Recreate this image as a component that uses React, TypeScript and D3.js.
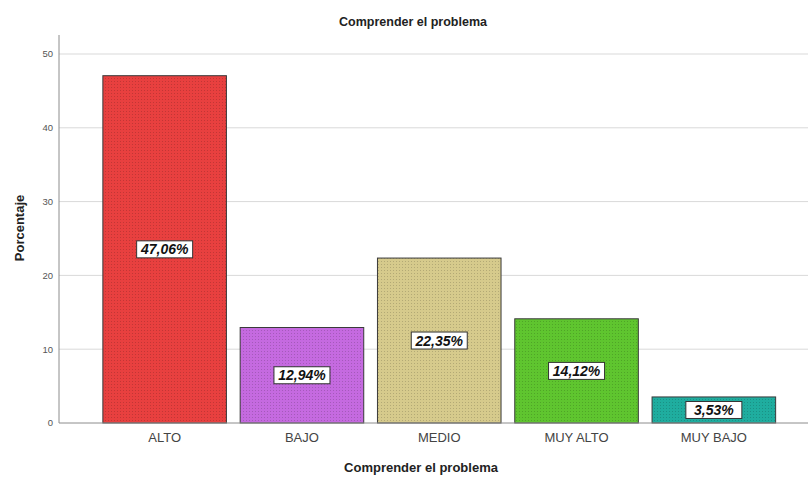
import React, { useEffect, useRef } from 'react';
import * as d3 from 'd3';

const categories = ['ALTO', 'BAJO', 'MEDIO', 'MUY ALTO', 'MUY BAJO'];
const percentages = [47.06, 12.94, 22.35, 14.12, 3.53];
const barColors = ['#e8403f', '#c56ae0', '#d6ca8c', '#5fc52f', '#1fad9f'];
const yTicks = [0, 10, 20, 30, 40, 50];

const W = 808;
const H = 477;

const App: React.FC = () => {
  const svgRef = useRef<SVGSVGElement>(null);

  useEffect(() => {
    if (!svgRef.current) return;
    const svg = d3.select(svgRef.current);
    svg.selectAll('*').remove();

    const font = '"Liberation Sans", Arial, sans-serif';
    const axisX = 59;
    const top = 35;
    const bottom = 423;

    const y = d3.scaleLinear().domain([0, 50]).range([bottom, 54]);
    const x = d3.scaleBand<string>()
      .domain(categories)
      .range([96, 782.5])
      .paddingInner(0.1)
      .paddingOuter(0.05);

    // dotted texture patterns
    const defs = svg.append('defs');
    barColors.forEach((c, i) => {
      const p = defs.append('pattern')
        .attr('id', `dots${i}`)
        .attr('width', 3)
        .attr('height', 3)
        .attr('patternUnits', 'userSpaceOnUse');
      p.append('rect').attr('width', 3).attr('height', 3).attr('fill', c);
      p.append('rect').attr('width', 1).attr('height', 1)
        .attr('fill', d3.color(c)!.darker(0.5).toString());
    });

    // grid lines
    svg.append('g')
      .selectAll('line')
      .data(yTicks.filter(t => t > 0))
      .enter()
      .append('line')
      .attr('x1', axisX)
      .attr('x2', W)
      .attr('y1', d => y(d))
      .attr('y2', d => y(d))
      .attr('stroke', '#d9d9d9')
      .attr('stroke-width', 1);

    // tick labels
    svg.append('g')
      .selectAll('text')
      .data(yTicks)
      .enter()
      .append('text')
      .attr('x', axisX - 6)
      .attr('y', d => y(d))
      .attr('dy', '0.35em')
      .attr('text-anchor', 'end')
      .attr('font-family', font)
      .attr('font-size', 9.5)
      .attr('fill', '#555')
      .text(d => d);

    // bars
    svg.append('g')
      .selectAll('rect')
      .data(percentages)
      .enter()
      .append('rect')
      .attr('x', (d, i) => x(categories[i]) as number)
      .attr('y', d => y(d))
      .attr('width', x.bandwidth())
      .attr('height', d => bottom - y(d))
      .attr('fill', (d, i) => `url(#dots${i})`)
      .attr('stroke', '#3a3a3a')
      .attr('stroke-width', 1);

    // axis lines
    svg.append('line')
      .attr('x1', axisX).attr('x2', axisX)
      .attr('y1', top).attr('y2', bottom)
      .attr('stroke', '#8c8c8c');
    svg.append('line')
      .attr('x1', axisX).attr('x2', W)
      .attr('y1', bottom).attr('y2', bottom)
      .attr('stroke', '#8c8c8c');

    // value labels
    const labels = svg.append('g')
      .selectAll('g')
      .data(percentages)
      .enter()
      .append('g')
      .attr('transform', (d, i) =>
        `translate(${(x(categories[i]) as number) + x.bandwidth() / 2},${(y(d) + bottom) / 2})`);
    labels.append('rect')
      .attr('x', -28)
      .attr('y', -8.5)
      .attr('width', 56)
      .attr('height', 17)
      .attr('fill', '#fff')
      .attr('stroke', '#333')
      .attr('stroke-width', 1);
    labels.append('text')
      .attr('text-anchor', 'middle')
      .attr('dy', '0.36em')
      .attr('font-family', font)
      .attr('font-size', 14)
      .attr('font-weight', 'bold')
      .attr('font-style', 'italic')
      .attr('fill', '#111')
      .text(d => `${d.toFixed(2).replace('.', ',')}%`);

    // category labels
    svg.append('g')
      .selectAll('text')
      .data(categories)
      .enter()
      .append('text')
      .attr('x', d => (x(d) as number) + x.bandwidth() / 2)
      .attr('y', 437)
      .attr('dy', '0.35em')
      .attr('text-anchor', 'middle')
      .attr('font-family', font)
      .attr('font-size', 13)
      .attr('fill', '#444')
      .text(d => d);

    // titles
    svg.append('text')
      .attr('x', 413)
      .attr('y', 22)
      .attr('dy', '0.35em')
      .attr('text-anchor', 'middle')
      .attr('font-family', font)
      .attr('font-size', 12.5)
      .attr('font-weight', 'bold')
      .attr('fill', '#222')
      .text('Comprender el problema');

    svg.append('text')
      .attr('x', 421)
      .attr('y', 467)
      .attr('dy', '0.35em')
      .attr('text-anchor', 'middle')
      .attr('font-family', font)
      .attr('font-size', 13)
      .attr('font-weight', 'bold')
      .attr('fill', '#222')
      .text('Comprender el problema');

    svg.append('text')
      .attr('transform', 'translate(19,228) rotate(-90)')
      .attr('dy', '0.35em')
      .attr('text-anchor', 'middle')
      .attr('font-family', font)
      .attr('font-size', 13)
      .attr('font-weight', 'bold')
      .attr('fill', '#222')
      .text('Porcentaje');
  }, []);

  return (
    <svg
      ref={svgRef}
      width={W}
      height={H}
      style={{ position: 'absolute', left: 0, top: 0, background: '#fff' }}
    />
  );
};

export default App;
